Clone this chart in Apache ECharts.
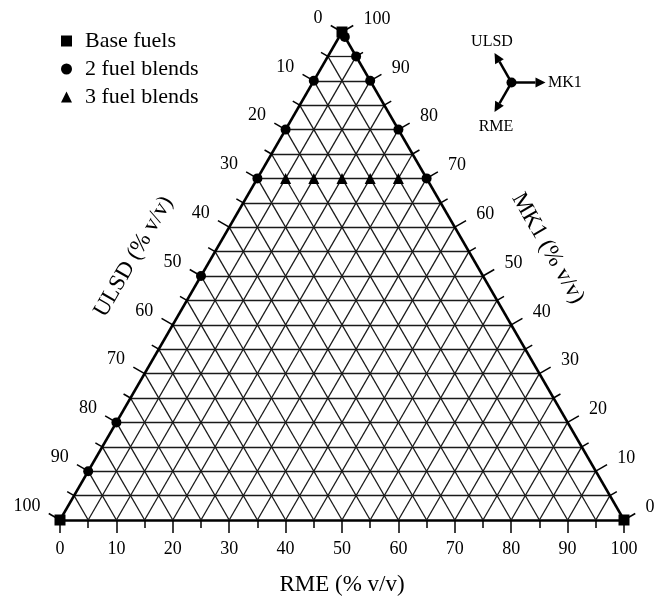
<!DOCTYPE html>
<html lang="en">
<head>
<meta charset="UTF-8">
<title>Ternary blend design</title>
<script src="https://cdn.jsdelivr.net/npm/echarts@6/dist/echarts.min.js"></script>
<style>
  html, body { margin: 0; padding: 0; background: #fff; }
  #chart { width: 664px; height: 598px; }
</style>
</head>
<body>
<div id="chart"></div>
<script>
// blend compositions as [RME, ULSD, MK1] in % v/v
var baseFuels = [[0, 100, 0], [100, 0, 0], [0, 0, 100]];
var twoFuelBlends = [
  [0, 10, 90], [0, 20, 80], [0, 30, 70], [0, 50, 50], [0, 80, 20], [0, 90, 10],
  [1, 0, 99], [5, 0, 95], [10, 0, 90], [20, 0, 80], [30, 0, 70]
];
var threeFuelBlends = [[5, 25, 70], [10, 20, 70], [15, 15, 70], [20, 10, 70], [25, 5, 70]];

// axis ticks (every 5), labelled every 10, grid lines inside
var axisTicks = [0, 5, 10, 15, 20, 25, 30, 35, 40, 45, 50, 55, 60, 65, 70, 75, 80, 85, 90, 95, 100];
var gridLevels = [5, 10, 15, 20, 25, 30, 35, 40, 45, 50, 55, 60, 65, 70, 75, 80, 85, 90, 95];
var labelTicks = [0, 10, 20, 30, 40, 50, 60, 70, 80, 90, 100];

var H = Math.sqrt(3) / 2;
var FONT = "'Liberation Serif', 'Times New Roman', serif";
var unit = 564 / 100;   // px per % along the base

// ternary -> cartesian (RME to the right, MK1 up)
function toXY(r, u, m) {
  return [r + m / 2, m * H];
}

var gridSegs = [];
gridLevels.forEach(function (v) {
  gridSegs.push({ coords: [toXY(0, 100 - v, v), toXY(100 - v, 0, v)] });   // MK1 const
  gridSegs.push({ coords: [toXY(v, 100 - v, 0), toXY(v, 0, 100 - v)] });   // RME const
  gridSegs.push({ coords: [toXY(100 - v, v, 0), toXY(0, v, 100 - v)] });   // ULSD const
});

var edgeSegs = [
  { coords: [toXY(0, 100, 0), toXY(0, 0, 100)] },
  { coords: [toXY(100, 0, 0), toXY(0, 0, 100)] }
];

var tickSegs = [];
var leftLabels = [];
var rightLabels = [];
axisTicks.forEach(function (v) {
  var len = (v % 10 === 0 ? 13 : 8) / unit;
  var pl = toXY(0, v, 100 - v);
  var pr = toXY(100 - v, 0, v);
  tickSegs.push({ coords: [pl, [pl[0] - H * len, pl[1] + 0.5 * len]] });
  tickSegs.push({ coords: [pr, [pr[0] + H * len, pr[1] + 0.5 * len]] });
});
labelTicks.forEach(function (v) {
  leftLabels.push(toXY(0, v, 100 - v).concat([v]));
  rightLabels.push(toXY(100 - v, 0, v).concat([v]));
});

function pts(list) {
  return list.map(function (d) { return toXY(d[0], d[1], d[2]); });
}

function labelSeries(data, pos, dist, off) {
  return {
    type: 'scatter',
    data: data,
    symbolSize: 1,
    itemStyle: { color: 'rgba(0,0,0,0)', opacity: 1 },
    silent: true,
    clip: false,
    label: {
      show: true,
      position: pos,
      distance: dist,
      offset: off,
      color: '#000',
      opacity: 1,
      fontFamily: FONT,
      fontSize: 18,
      formatter: function (p) { return p.value[2]; }
    }
  };
}

var chart = echarts.init(document.getElementById('chart'));

var option = {
  animation: false,
  backgroundColor: '#fff',
  grid: { left: 60, right: 40, top: 32, bottom: 78, outerBoundsMode: 'none' },
  legend: {
    orient: 'vertical',
    left: 56,
    top: 25,
    itemWidth: 11,
    itemHeight: 11,
    itemGap: 6,
    data: ['Base fuels', '2 fuel blends', '3 fuel blends'],
    textStyle: { fontFamily: FONT, fontSize: 22, lineHeight: 20, color: '#000', padding: [0, 0, 0, 8] }
  },
  xAxis: {
    type: 'value',
    min: 0,
    max: 100,
    interval: 10,
    splitLine: { show: false },
    axisLine: { lineStyle: { color: '#000', width: 2.5 } },
    axisTick: { length: 13, lineStyle: { color: '#000', width: 1.5 } },
    minorTick: { show: true, splitNumber: 2, length: 8, lineStyle: { color: '#000', width: 1.5 } },
    axisLabel: { margin: 20, color: '#000', fontFamily: FONT, fontSize: 18 },
    name: 'RME (% v/v)',
    nameLocation: 'middle',
    nameGap: 53,
    nameTextStyle: { color: '#000', fontFamily: FONT, fontSize: 23 }
  },
  yAxis: { type: 'value', min: 0, max: 100 * H, show: false },
  series: [
    {
      type: 'lines', coordinateSystem: 'cartesian2d', silent: true, clip: false,
      data: gridSegs, lineStyle: { color: '#1a1a1a', width: 1.3, opacity: 1 }, z: 1
    },
    {
      type: 'lines', coordinateSystem: 'cartesian2d', silent: true, clip: false,
      data: tickSegs, lineStyle: { color: '#000', width: 1.5, opacity: 1 }, z: 2
    },
    {
      type: 'lines', coordinateSystem: 'cartesian2d', silent: true, clip: false,
      data: edgeSegs, lineStyle: { color: '#000', width: 2.5, opacity: 1 }, z: 3
    },
    labelSeries(leftLabels, 'left', 19, [0, -14]),
    labelSeries(rightLabels, 'right', 21, [0, -13]),
    {
      name: 'Base fuels', type: 'scatter', symbol: 'rect', symbolSize: 11, clip: false,
      data: pts(baseFuels), itemStyle: { color: '#000', opacity: 1 }, z: 5
    },
    {
      name: '2 fuel blends', type: 'scatter', symbol: 'circle', symbolSize: 10, clip: false,
      data: pts(twoFuelBlends), itemStyle: { color: '#000', opacity: 1 }, z: 5
    },
    {
      name: '3 fuel blends', type: 'scatter', symbol: 'triangle', symbolSize: 11, clip: false,
      data: pts(threeFuelBlends), itemStyle: { color: '#000', opacity: 1 }, z: 5
    }
  ]
};
chart.setOption(option);

// axis titles along the slanted edges + direction key
var lm = chart.convertToPixel({ gridIndex: 0 }, toXY(0, 53, 47));
var rm = chart.convertToPixel({ gridIndex: 0 }, toXY(51.5, 0, 48.5));
var kx = 511.5, ky = 82.5, kl = 34;
function arrow(ang) {
  var c = Math.cos(ang), s = Math.sin(ang);
  var tx = kx + c * kl, ty = ky + s * kl;
  var bx = tx - c * 10, by = ty - s * 10;
  return [
    { type: 'line', shape: { x1: kx, y1: ky, x2: bx, y2: by }, style: { stroke: '#000', lineWidth: 2.5 } },
    { type: 'polygon', shape: { points: [[tx, ty], [bx - s * 5, by + c * 5], [bx + s * 5, by - c * 5]] }, style: { fill: '#000' } }
  ];
}
var keyText = { fontFamily: FONT, fontSize: 16, fill: '#000', verticalAlign: 'middle' };
var graphics = [
  {
    type: 'text', x: lm[0] - 68 * H, y: lm[1] - 68 * 0.5, rotation: Math.PI / 3,
    style: { text: 'ULSD (% v/v)', fontFamily: FONT, fontSize: 23, fill: '#000', align: 'center', verticalAlign: 'middle' }
  },
  {
    type: 'text', x: rm[0] + 70 * H, y: rm[1] - 70 * 0.5, rotation: -Math.PI / 3,
    style: { text: 'MK1 (% v/v)', fontFamily: FONT, fontSize: 23, fill: '#000', align: 'center', verticalAlign: 'middle' }
  },
  { type: 'circle', shape: { cx: kx, cy: ky, r: 5 }, style: { fill: '#000' } },
  { type: 'text', x: 548, y: ky, style: Object.assign({ text: 'MK1', align: 'left' }, keyText) },
  { type: 'text', x: 492, y: 42, style: Object.assign({ text: 'ULSD', align: 'center' }, keyText) },
  { type: 'text', x: 496, y: 127, style: Object.assign({ text: 'RME', align: 'center' }, keyText) }
];
graphics = graphics.concat(arrow(0), arrow(-2 * Math.PI / 3), arrow(2 * Math.PI / 3));
chart.setOption({ graphic: graphics });
</script>
</body>
</html>
